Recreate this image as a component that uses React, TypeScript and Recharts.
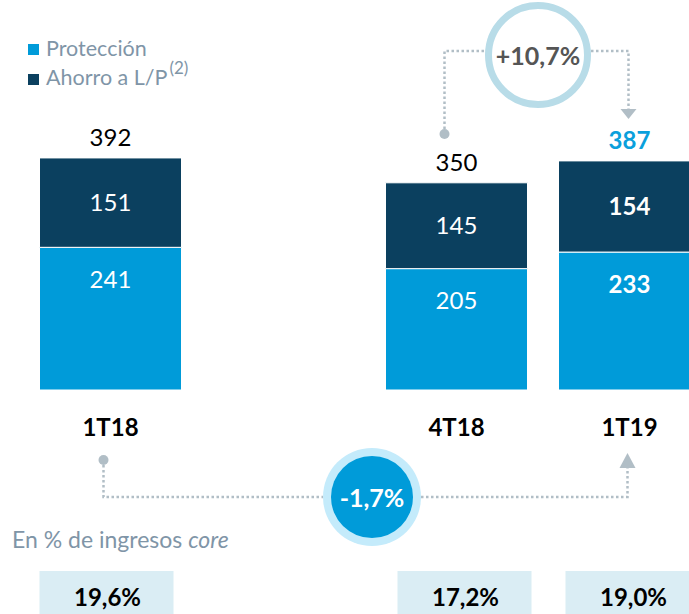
import { BarChart, Bar, XAxis, YAxis, LabelList } from 'recharts'

const categories = ['1T18', '', '4T18', '1T19']
const proteccion = [241, null, 205, 233]
const ahorro = [151, null, 145, 154]
const totals = [392, null, 350, 387]
const coreShare = ['19,6%', '', '17,2%', '19,0%']
const growthQoQ = '+10,7%'
const growthYoY = '-1,7%'

const data = categories.map((name, i) => ({
  name,
  proteccion: proteccion[i],
  ahorro: ahorro[i],
  total: totals[i],
  core: coreShare[i],
}))

// layout
const W = 720
const H = 614
const ML = 24
const MR = 4
const BAND = (W - ML - MR) / categories.length
const center = (i: number) => ML + BAND * (i + 0.5)
const BASE_Y = 390
const boxShift = [0, 0, 12, 7]
const LAST = categories.length - 1

// which category a label belongs to, from its bar x
const catIndex = (x: number, width: number) =>
  Math.floor((x + width / 2 - ML) / BAND)

const C_PROT = '#009bd9'
const C_AHORRO = '#0b405f'
const C_GREY = '#7f95a7'
const C_DOT = '#b1bec6'
const FONT = 'Lato, "Open Sans", sans-serif'

const segmentLabel = (mode: 'center' | 'top') => (props: any) => {
  const { x, y, width, height, value } = props
  if (value == null) return null
  const cy = mode === 'center' ? y + height / 2 : y + 32
  return (
    <text
      x={x + width / 2}
      y={cy + 8.5}
      textAnchor="middle"
      fill="#fff"
      fontSize={24}
      fontWeight={catIndex(x, width) === LAST ? 700 : 400}
      fontFamily={FONT}
    >
      {value}
    </text>
  )
}

const totalLabel = (props: any) => {
  const { x, y, width, value } = props
  if (value == null) return null
  const last = catIndex(x, width) === LAST
  return (
    <text
      x={x + width / 2}
      y={y - 12}
      textAnchor="middle"
      fill={last ? '#0aa0dc' : '#000'}
      fontSize={24}
      fontWeight={last ? 700 : 400}
      fontFamily={FONT}
    >
      {value}
    </text>
  )
}

const coreBox = (props: any) => {
  const { x, width, value } = props
  if (!value) return null
  const bx = x + boxShift[catIndex(x, width)]
  return (
    <g>
      <rect x={bx} y={571} width={134} height={50} fill="#daedf4" />
      <text
        x={bx + 68}
        y={606}
        textAnchor="middle"
        fill="#000"
        fontSize={24}
        fontWeight={700}
        fontFamily={FONT}
      >
        {value}
      </text>
    </g>
  )
}

const CatTick = (props: any) => {
  const { x, y, payload } = props
  return (
    <text
      x={x}
      y={y + 46}
      textAnchor="middle"
      fill="#000"
      fontSize={24}
      fontWeight={700}
      fontFamily={FONT}
    >
      {payload.value}
    </text>
  )
}

const Overlay = () => {
  const topL = center(2) - 12
  const topR = center(3) - 1
  const topC = 538
  const botL = center(0) - 7
  const botR = center(3) - 2
  const botC = 372
  return (
    <svg
      width={689}
      height={614}
      style={{ position: 'absolute', left: 0, top: 0, pointerEvents: 'none' }}
    >
      {/* legend */}
      <rect x={28} y={44} width={11} height={11} fill={C_PROT} />
      <text x={46} y={56} fontSize={21.5} fill={C_GREY} fontFamily={FONT}>
        Protección
      </text>
      <rect x={28} y={74} width={11} height={11} fill={C_AHORRO} />
      <text x={46} y={85} fontSize={21.5} fill={C_GREY} fontFamily={FONT}>
        Ahorro a L/P
        <tspan fontSize={17} dy={-11} dx={2}>
          (2)
        </tspan>
      </text>

      {/* top bracket */}
      <g stroke={C_DOT} strokeWidth={2.5} strokeDasharray="2.5 2.5" fill="none">
        <path d={`M${topL},134 V51 H${topC - 53}`} />
        <path d={`M${topC + 53},51 H${topR} V110`} />
      </g>
      <circle cx={topL} cy={134} r={5} fill={C_DOT} />
      <polygon points={`${topR - 8},109 ${topR + 8},109 ${topR},119`} fill={C_DOT} />
      <circle cx={topC} cy={55} r={49.5} fill="#fff" stroke="#b8dce8" strokeWidth={7} />
      <text
        x={topC}
        y={65}
        textAnchor="middle"
        fontSize={25}
        fontWeight={700}
        fill="#555"
        fontFamily={FONT}
      >
        {growthQoQ}
      </text>

      {/* bottom bracket */}
      <g stroke={C_DOT} strokeWidth={2.5} strokeDasharray="2.5 2.5" fill="none">
        <path d={`M${botL},460 V497 H${botC - 49}`} />
        <path d={`M${botC + 49},497 H${botR} V468`} />
      </g>
      <circle cx={botL} cy={460} r={5} fill={C_DOT} />
      <polygon points={`${botR - 8},468 ${botR + 8},468 ${botR},453`} fill={C_DOT} />
      <circle cx={botC} cy={497} r={49} fill="#c4ebfb" />
      <circle cx={botC} cy={497} r={41} fill={C_PROT} />
      <text
        x={botC}
        y={507}
        textAnchor="middle"
        fontSize={25}
        fontWeight={700}
        fill="#fff"
        fontFamily={FONT}
      >
        {growthYoY}
      </text>

      {/* caption */}
      <text x={12} y={548} fontSize={23} fill={C_GREY} fontFamily={FONT}>
        En % de ingresos <tspan fontStyle="italic">core</tspan>
      </text>
    </svg>
  )
}

export default function App() {
  return (
    <div
      style={{
        position: 'absolute',
        left: 0,
        top: 0,
        width: 689,
        height: 614,
        overflow: 'hidden',
        background: '#fff',
      }}
    >
      <BarChart
        width={W}
        height={H}
        data={data}
        margin={{ top: 94, right: MR, left: ML, bottom: H - BASE_Y - 30 }}
        barCategoryGap={(BAND - 142) / 2}
      >
        <XAxis
          dataKey="name"
          axisLine={false}
          tickLine={false}
          tickSize={0}
          tickMargin={0}
          height={30}
          interval={0}
          tick={<CatTick />}
        />
        <YAxis hide domain={[0, 500]} />
        <Bar
          dataKey="proteccion"
          stackId="a"
          fill={C_PROT}
          stroke="#fff"
          strokeWidth={1}
          isAnimationActive={false}
        >
          <LabelList dataKey="proteccion" content={segmentLabel('top')} />
          <LabelList dataKey="core" content={coreBox} />
        </Bar>
        <Bar
          dataKey="ahorro"
          stackId="a"
          fill={C_AHORRO}
          stroke="#fff"
          strokeWidth={1}
          isAnimationActive={false}
        >
          <LabelList dataKey="ahorro" content={segmentLabel('center')} />
          <LabelList dataKey="total" content={totalLabel} />
        </Bar>
      </BarChart>
      <Overlay />
    </div>
  )
}
